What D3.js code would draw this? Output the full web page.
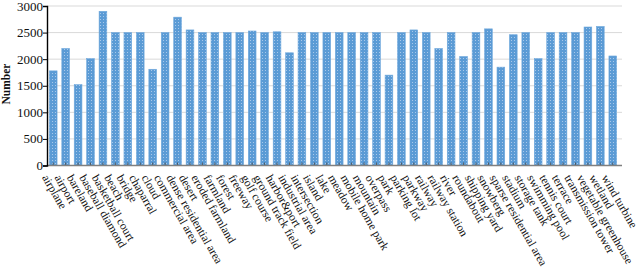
<!DOCTYPE html>
<html>
<head>
    <meta charset="utf-8">
    <title>Number per category</title>
    <script src="https://cdn.jsdelivr.net/npm/d3@7"></script>
    <style>
        body { margin: 0; background: #fff; }
        text { font-family: "Liberation Serif", "Times New Roman", serif; fill: #111; }
    </style>
</head>
<body>
    <div id="chart"></div>
    <script>
        const categories = ["airplane", "airport", "bareland", "baseball diamond", "basketball court",
            "beach", "bridge", "chaparral", "cloud", "commercial area", "dense residential area",
            "desert", "eroded farmland", "farmland", "forest", "freeway", "golf course",
            "ground track field", "harbor&port", "industrial area", "intersection", "island",
            "lake", "meadow", "mobile home park", "mountain", "overpass", "park", "parking lot",
            "parkway", "railway", "railway station", "river", "roundabout", "shipping yard",
            "snowberg", "sparse residential area", "stadium", "storage tank", "swimming pool",
            "tennis court", "terrace", "transmission tower", "vegetable greenhouse", "wetland",
            "wind turbine"];
        const counts = [1780, 2200, 1520, 2010, 2900,
            2500, 2500, 2500, 1810, 2500, 2790,
            2550, 2500, 2500, 2500, 2500, 2530,
            2500, 2515, 2120, 2500, 2500,
            2500, 2500, 2500, 2500, 2500, 1700, 2500,
            2550, 2500, 2200, 2500, 2050, 2500,
            2570, 1850, 2460, 2500, 2010,
            2500, 2500, 2500, 2605, 2615,
            2060];
        const yTicks = [0, 500, 1000, 1500, 2000, 2500, 3000];

        const W = 640, H = 269;
        const plotLeft = 47, plotRight = 622, plotTop = 6, plotBottom = 165.5;

        const svg = d3.select("#chart").append("svg")
            .attr("width", W)
            .attr("height", H);

        // dotted bar texture
        const pat = svg.append("defs").append("pattern")
            .attr("id", "dots")
            .attr("patternUnits", "userSpaceOnUse")
            .attr("width", 3).attr("height", 3);
        pat.append("rect").attr("width", 3).attr("height", 3).attr("fill", "#5b9bd5");
        pat.append("rect").attr("x", 1).attr("y", 1).attr("width", 1).attr("height", 1)
            .attr("fill", "#a8c8ea");

        const x = d3.scaleBand()
            .domain(categories)
            .range([plotLeft, 619])
            .paddingInner(0.38)
            .paddingOuter(0.19);

        const y = d3.scaleLinear()
            .domain([0, 3000])
            .range([plotBottom, plotTop]);

        // gridlines
        svg.append("g")
            .selectAll("line")
            .data(yTicks.filter(d => d > 0))
            .join("line")
            .attr("x1", plotLeft).attr("x2", plotRight)
            .attr("y1", d => y(d)).attr("y2", d => y(d))
            .attr("stroke", "#d9d9d9")
            .attr("stroke-width", 1);

        // bars
        svg.append("g")
            .selectAll("rect")
            .data(categories)
            .join("rect")
            .attr("x", d => x(d))
            .attr("y", (d, i) => y(counts[i]))
            .attr("width", x.bandwidth())
            .attr("height", (d, i) => plotBottom - y(counts[i]))
            .attr("fill", "url(#dots)")
            .attr("stroke", "#6fa8dc")
            .attr("stroke-width", 0.6);

        // bottom axis
        const xAxis = svg.append("g")
            .attr("transform", `translate(0,${plotBottom})`)
            .call(d3.axisBottom(x).tickSizeInner(-3).tickSizeOuter(0).tickFormat(""));
        xAxis.select(".domain").remove();
        xAxis.append("line")
            .attr("x1", plotLeft).attr("x2", plotRight)
            .attr("stroke", "#808080")
            .attr("stroke-width", 1.6);
        xAxis.selectAll(".tick line").attr("stroke", "#444").attr("stroke-width", 0.8);

        xAxis.selectAll(".lbl")
            .data(categories)
            .join("text")
            .attr("class", "lbl")
            .attr("transform", d => `translate(${x(d) + x.bandwidth() / 2 - 11.5},12) rotate(60)`)
            .attr("font-size", 11.7)
            .attr("text-anchor", "start")
            .text(d => d);

        // left axis
        const yAxis = svg.append("g")
            .attr("transform", `translate(${plotLeft},0)`)
            .call(d3.axisLeft(y).tickValues(yTicks).tickSize(4).tickFormat(""));
        yAxis.select(".domain").attr("stroke", "#000").attr("stroke-width", 1.4);
        yAxis.selectAll(".tick line").attr("stroke", "#000");

        svg.append("g")
            .selectAll("text")
            .data(yTicks)
            .join("text")
            .attr("x", 43)
            .attr("y", d => y(d))
            .attr("text-anchor", "end")
            .attr("dy", "0.35em")
            .attr("font-size", 13)
            .attr("fill", "#222")
            .text(d => d);

        svg.append("text")
            .attr("transform", "translate(10,84) rotate(-90)")
            .attr("text-anchor", "middle")
            .attr("font-size", 11.5)
            .attr("font-weight", "bold")
            .text("Number");
    </script>
</body>
</html>
